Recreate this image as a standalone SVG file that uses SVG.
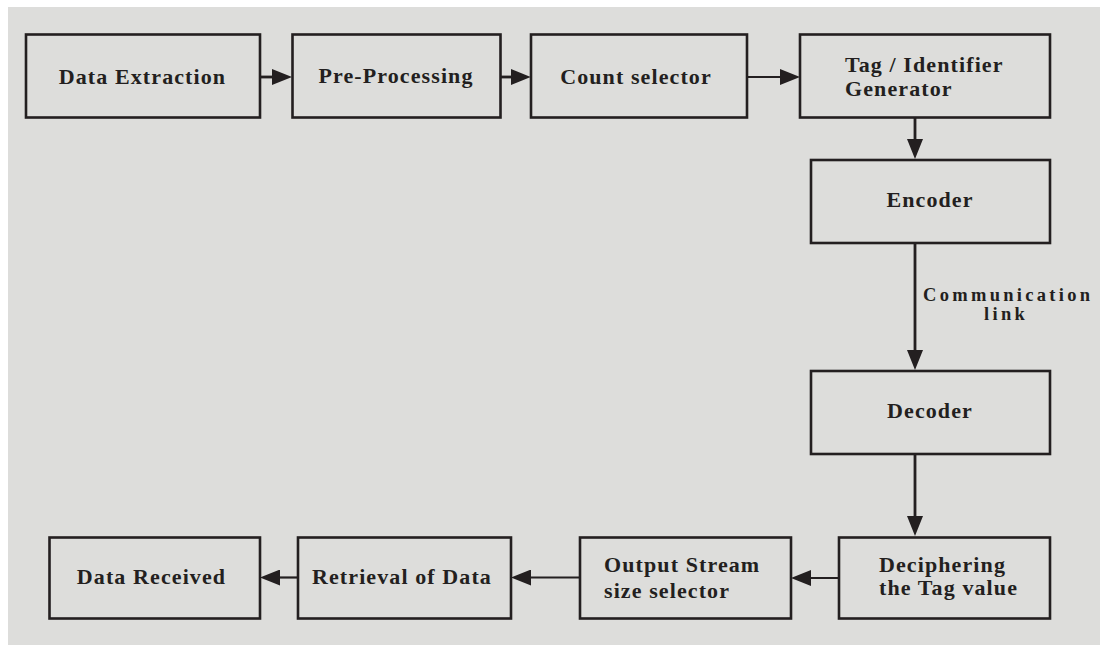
<svg xmlns="http://www.w3.org/2000/svg" width="1100" height="646" viewBox="0 0 1100 646">
<style>
.box{fill:#dddddb;stroke:#231f20;stroke-width:2.6}
.t{font-family:"Liberation Serif","Times New Roman",serif;font-weight:bold;font-size:22px;letter-spacing:1.1px;fill:#231f20}
.m{text-anchor:middle}
.lbl{font-family:"Liberation Serif","Times New Roman",serif;font-weight:bold;font-size:18.5px;letter-spacing:3.3px;fill:#231f20}
.c{fill:none;stroke:#231f20;stroke-width:2.8;marker-end:url(#ah)}
.thin{stroke-width:2.2}
</style>
<defs>
<marker id="ah" markerUnits="userSpaceOnUse" markerWidth="20" markerHeight="16" refX="10" refY="8" orient="auto">
<path d="M0,0 L20,8 L0,16 Z" fill="#231f20"/>
</marker>
</defs>
<rect x="0" y="0" width="1100" height="646" fill="#ffffff"/>
<rect x="8" y="7" width="1092" height="638" fill="#dddddb"/>

<g id="connectors">
<path class="c" d="M260,77 L282,77"/>
<path class="c" d="M500.7,77 L520.7,77"/>
<path class="c thin" d="M747,77 L790,77"/>
<path class="c" d="M915,117.5 L915,149"/>
<path class="c" d="M915,243.5 L915,360"/>
<path class="c" d="M915,454 L915,526"/>
<path class="c thin" d="M839,578 L801,578"/>
<path class="c thin" d="M580,577.5 L521,577.5"/>
<path class="c thin" d="M298,577.5 L270,577.5"/>
<text class="lbl" x="923" y="301">Communication</text>
<text class="lbl" x="984" y="320">link</text>
</g>

<g id="data-extraction">
<rect class="box" x="26" y="34.5" width="234" height="83"/>
<text class="t m" x="142.5" y="83.5">Data Extraction</text>
</g>
<g id="pre-processing">
<rect class="box" x="292.5" y="34.5" width="208" height="83"/>
<text class="t m" x="396" y="83">Pre-Processing</text>
</g>
<g id="count-selector">
<rect class="box" x="531" y="34.5" width="216" height="83"/>
<text class="t m" x="636" y="83.5">Count selector</text>
</g>
<g id="tag-generator">
<rect class="box" x="800" y="34.5" width="250" height="83"/>
<text class="t" x="845" y="71.5">Tag / Identifier</text>
<text class="t" x="845" y="96">Generator</text>
</g>
<g id="encoder">
<rect class="box" x="811" y="160" width="239" height="83"/>
<text class="t m" x="930" y="207">Encoder</text>
</g>
<g id="decoder">
<rect class="box" x="811" y="371" width="239" height="83"/>
<text class="t m" x="930" y="417.5">Decoder</text>
</g>
<g id="deciphering">
<rect class="box" x="839" y="537.5" width="211" height="81"/>
<text class="t" x="879" y="571.5">Deciphering</text>
<text class="t" x="879" y="594.5">the Tag value</text>
</g>
<g id="output-stream">
<rect class="box" x="580" y="537.5" width="211" height="81"/>
<text class="t" x="604" y="572">Output Stream</text>
<text class="t" x="604" y="598">size selector</text>
</g>
<g id="retrieval">
<rect class="box" x="298" y="537.5" width="213" height="81"/>
<text class="t m" x="402" y="583.5">Retrieval of Data</text>
</g>
<g id="data-received">
<rect class="box" x="49.5" y="537.5" width="210.5" height="81"/>
<text class="t m" x="151.5" y="584">Data Received</text>
</g>
</svg>
